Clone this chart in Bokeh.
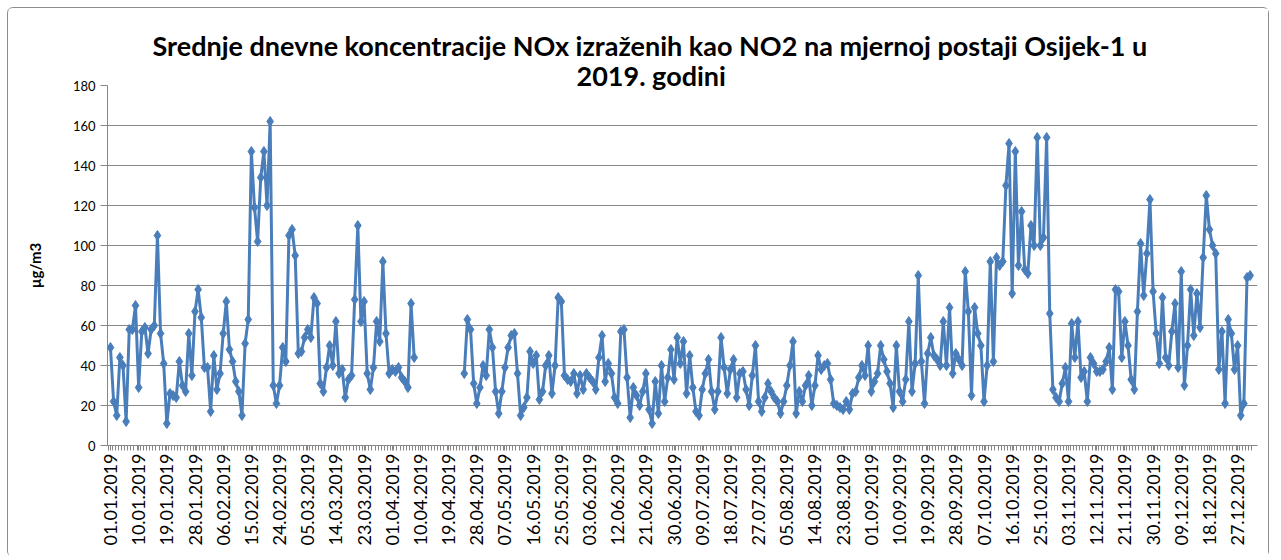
import numpy as np
from bokeh.plotting import figure
from bokeh.models import Range1d, FixedTicker, Title, ColumnDataSource
from bokeh.embed import file_html
from bokeh.resources import INLINE

title_line1 = "Srednje dnevne koncentracije NOx  izraženih kao NO2 na mjernoj postaji Osijek-1 u"
title_line2 = "2019. godini"
y_label = "µg/m3"

# daily mean NOx (as NO2), µg/m3, 01.01.2019 - 31.12.2019 (None = no data)
nox_jan_feb = [49, 22, 15, 44, 40, 12, 58, 58, 70, 29, 57, 59, 46, 58, 60, 105, 56, 41, 11, 26,
               25, 24, 42, 30, 27, 56, 35, 67, 78, 64,
               39, 39, 17, 45, 28, 36, 56, 72, 48, 42, 32, 27, 15, 51, 63, 147, 119, 102, 134, 147,
               120, 162, 30, 21, 30, 49, 42, 105, 108, 95]
nox_mar_apr = [46, 47, 54, 58, 54, 74, 71, 31, 27, 39, 50, 40, 62, 36, 38, 24, 33, 35, 73, 110,
               62, 72, 36, 28, 39, 62, 52, 92, 56, 36, 38, 37, 39, 34, 32, 29, 71, 44,
               None, None, None, None, None, None, None, None, None, None, None, None, None, None, None,
               36, 63, 58, 31, 21, 29, 40, 35]
nox_may_jun = [58, 49, 27, 16, 27, 39, 49, 55, 56, 36, 15, 19, 24, 47, 41, 45, 23, 27, 40, 45,
               26, 40, 74, 72, 35, 33, 32, 36, 26, 35, 28, 36, 34, 32, 28, 44, 55, 32, 41, 36,
               24, 21, 57, 58, 34, 14, 29, 25, 20, 27]
nox_jul_aug = [36, 18, 11, 32, 16, 40, 22, 34, 48, 33, 54, 41, 52, 26, 45, 29, 17, 15, 28, 36,
               43, 27, 18, 27, 54, 39, 26, 38, 43, 24,
               36, 37, 28, 20, 35, 50, 22, 17, 24, 31, 27, 24, 22, 16, 22, 30, 40, 52, 16, 27,
               22, 30, 35, 20, 30, 45, 38, 40, 41, 33, 21]
nox_sep_oct = [20, 19, 18, 22, 18, 26, 27, 34, 40, 35, 50, 27, 32, 36, 50, 43, 37, 31, 19, 50,
               27, 22, 33, 62, 27, 41, 85, 42, 21, 46,
               54, 45, 43, 40, 62, 40, 69, 36, 46, 43, 40, 87, 67, 25, 69, 56, 50, 22, 40, 92,
               42, 94, 90, 92, 130, 151, 76, 147,
               90, 117, 88, 86, 110, 100, 154, 100, 104, 154, 66]
nox_nov_dec = [28, 24, 22, 31, 39, 22, 61, 44, 62, 34, 37, 22, 44, 41, 37, 37, 38, 42, 49, 28,
               78, 77, 44, 62, 50, 33, 28, 67, 101, 75, 96, 123, 77, 56, 41, 74, 44, 40, 57, 71,
               39, 87, 30, 50, 78, 55, 76, 59, 94, 125, 108, 100, 96, 38, 57, 21, 63, 56, 38, 50,
               15, 21, 84, 85]

nox = nox_jan_feb + nox_mar_apr + nox_may_jun + nox_jul_aug + nox_sep_oct + nox_nov_dec
days = list(range(len(nox)))

tick_days = [0, 9, 18, 27, 36, 45, 54, 63, 72, 81, 90, 99, 108, 117, 126, 135, 144, 153, 162, 171,
             180, 189, 198, 207, 216, 225, 234, 243, 252, 261, 270, 279, 288, 297, 306, 315, 324,
             333, 342, 351, 360]
tick_labels = ["01.01.2019", "10.01.2019", "19.01.2019", "28.01.2019", "06.02.2019", "15.02.2019",
               "24.02.2019", "05.03.2019", "14.03.2019", "23.03.2019", "01.04.2019", "10.04.2019",
               "19.04.2019", "28.04.2019", "07.05.2019", "16.05.2019", "25.05.2019", "03.06.2019",
               "12.06.2019", "21.06.2019", "30.06.2019", "09.07.2019", "18.07.2019", "27.07.2019",
               "05.08.2019", "14.08.2019", "23.08.2019", "01.09.2019", "10.09.2019", "19.09.2019",
               "28.09.2019", "07.10.2019", "16.10.2019", "25.10.2019", "03.11.2019", "12.11.2019",
               "21.11.2019", "30.11.2019", "09.12.2019", "18.12.2019", "27.12.2019"]
y_ticks = [0, 20, 40, 60, 80, 100, 120, 140, 160, 180]

src = ColumnDataSource(dict(day=days, nox=np.array(nox, dtype=float)))

FONT = "Lato"
GRID = "#868686"
BLUE = "#4A7EBB"

p = figure(width=1262, height=550, output_backend="svg", toolbar_location=None, title=None,
           x_range=Range1d(-0.95, 366.35), y_range=Range1d(0, 180),
           min_border_left=99, min_border_right=13, min_border_top=77, min_border_bottom=113,
           background_fill_color="white", border_fill_color="white",
           styles={"border": "1px solid #8c8c8c", "border-bottom": "none",
                   "border-radius": "6px", "margin-left": "7px", "margin-top": "7px"})
p.outline_line_color = None

p.line(x="day", y="nox", source=src, line_color=BLUE, line_width=3)
p.scatter(x="day", y="nox", source=src, marker="diamond", size=10,
          fill_color=BLUE, line_color=BLUE)

# axes
p.xgrid.grid_line_color = None
p.ygrid.grid_line_color = GRID
p.ygrid.grid_line_width = 1
p.yaxis.ticker = FixedTicker(ticks=y_ticks)
p.xaxis.ticker = FixedTicker(ticks=tick_days, minor_ticks=[d - 0.5 for d in days] + [days[-1] + 0.5])
p.xaxis.major_label_overrides = {d: l for d, l in zip(tick_days, tick_labels)}
p.xaxis.major_label_orientation = np.pi / 2

for ax in (p.xaxis[0], p.yaxis[0]):
    ax.axis_line_color = GRID
    ax.major_tick_line_color = GRID
    ax.minor_tick_line_color = GRID
    ax.major_label_text_font = FONT
    ax.major_label_text_color = "#000000"

p.yaxis.major_label_text_font_size = "13px"
p.xaxis.major_label_text_font_size = "18px"

p.yaxis.major_tick_in = 0
p.yaxis.major_tick_out = 7
p.yaxis.minor_tick_line_color = None
p.yaxis.major_label_standoff = 5
p.yaxis.axis_label = y_label
p.yaxis.axis_label_text_font = FONT
p.yaxis.axis_label_text_font_style = "bold"
p.yaxis.axis_label_text_font_size = "15px"
p.yaxis.axis_label_text_color = "#000000"
p.yaxis.axis_label_standoff = 26

p.xaxis.major_tick_in = 0
p.xaxis.major_tick_out = 5
p.xaxis.minor_tick_in = 0
p.xaxis.minor_tick_out = 5
p.xaxis.major_label_standoff = 3

# two-line chart title (second line sits closest to the plot)
p.add_layout(Title(text=title_line2, align="left", offset=469, standoff=-13,
                   text_font=FONT, text_font_style="bold", text_font_size="27px",
                   text_color="#000000"), "above")
p.add_layout(Title(text=title_line1, align="left", offset=45, standoff=4,
                   text_font=FONT, text_font_style="bold", text_font_size="27px",
                   text_color="#000000"), "above")

open("out.html", "w").write(file_html(p, INLINE))
